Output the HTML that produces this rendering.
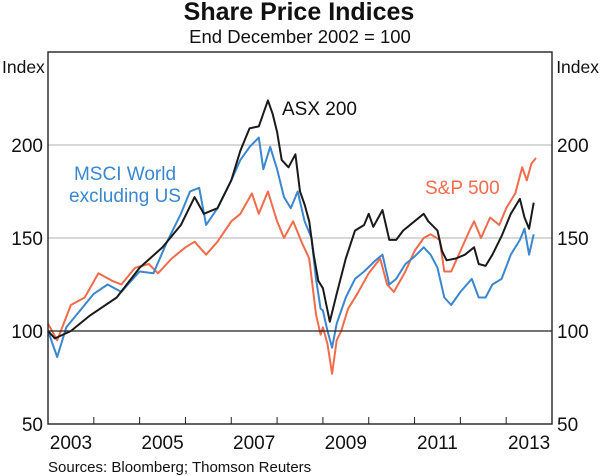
<!DOCTYPE html>
<html><head><meta charset="utf-8"><style>
body{margin:0;background:#fff;}
svg{display:block;font-family:"Liberation Sans",Arial,sans-serif;}
</style></head><body>
<svg id="chart" width="600" height="476">
<text x="299" y="20" text-anchor="middle" font-size="25" font-weight="bold" fill="#111">Share Price Indices</text>
<text x="300" y="43" text-anchor="middle" font-size="18.5" fill="#111">End December 2002 = 100</text>
<text x="2" y="73" font-size="17.5" fill="#111">Index</text>
<text x="599" y="73" text-anchor="end" font-size="17.5" fill="#111">Index</text>
<g id="grid"></g><g id="series"></g><g id="axes"></g>
<text x="282" y="115" font-size="19" fill="#111">ASX 200</text>
<text x="125" y="180" text-anchor="middle" font-size="19" fill="#3a87d0">MSCI World</text>
<text x="125" y="202" text-anchor="middle" font-size="19" fill="#3a87d0">excluding US</text>
<text x="425" y="194" font-size="19" fill="#f26b4a">S&amp;P 500</text>
<text x="48" y="472" font-size="15" fill="#111">Sources: Bloomberg; Thomson Reuters</text>
</svg>
<script>
const yTicks=[50,100,150,200,250];
const yTickLabels=["50","100","150","200",""];
const xYears=[2003,2004,2005,2006,2007,2008,2009,2010,2011,2012,2013,2014];
const xLabels=["2003","2005","2007","2009","2011","2013"];
const asxT=[2003.0,2003.15,2003.5,2003.9,2004.5,2005.0,2005.5,2005.9,2006.2,2006.4,2006.7,2007.0,2007.2,2007.4,2007.6,2007.8,2007.9,2008.0,2008.1,2008.25,2008.4,2008.5,2008.6,2008.7,2008.8,2008.9,2009.0,2009.15,2009.3,2009.5,2009.7,2009.9,2010.0,2010.1,2010.3,2010.45,2010.6,2010.75,2011.0,2011.2,2011.3,2011.5,2011.6,2011.7,2011.9,2012.1,2012.3,2012.4,2012.55,2012.7,2012.9,2013.1,2013.3,2013.4,2013.5,2013.6];
const asxV=[100,96,100,108,118,134,145,157,172,163,166,181,197,209,210,224,217,207,192,188,195,175,168,159,141,127,123,105,120,139,154,157,163,156,165,149,149,154,159,163,159,154,143,138,139,141,145,136,135,141,151,163,171,161,155,169];
const msciT=[2003.0,2003.2,2003.4,2003.7,2004.0,2004.3,2004.6,2005.0,2005.3,2005.6,2005.9,2006.1,2006.3,2006.45,2006.7,2007.0,2007.2,2007.4,2007.6,2007.7,2007.85,2008.0,2008.15,2008.3,2008.45,2008.6,2008.75,2008.85,2008.95,2009.0,2009.1,2009.2,2009.3,2009.5,2009.7,2009.9,2010.15,2010.3,2010.45,2010.6,2010.8,2011.0,2011.2,2011.35,2011.5,2011.65,2011.8,2012.0,2012.25,2012.4,2012.55,2012.7,2012.9,2013.1,2013.3,2013.4,2013.5,2013.6];
const msciV=[100,86,102,111,120,125,121,132,131,148,163,175,177,157,166,181,192,199,204,187,199,187,172,166,175,159,150,128,112,111,100,91,104,118,128,132,138,141,125,128,136,140,145,141,134,118,114,121,128,118,118,125,128,141,149,155,141,152];
const spT=[2003.0,2003.2,2003.5,2003.8,2004.1,2004.4,2004.6,2004.9,2005.2,2005.4,2005.7,2006.0,2006.2,2006.45,2006.7,2007.0,2007.2,2007.45,2007.6,2007.8,2008.0,2008.15,2008.35,2008.55,2008.7,2008.85,2008.95,2009.0,2009.1,2009.2,2009.3,2009.4,2009.55,2009.75,2010.0,2010.25,2010.4,2010.55,2010.8,2011.0,2011.2,2011.35,2011.55,2011.65,2011.8,2012.0,2012.2,2012.3,2012.45,2012.65,2012.85,2013.0,2013.2,2013.35,2013.45,2013.55,2013.65];
const spV=[104,95,114,118,131,127,125,134,136,131,139,145,148,141,148,159,163,174,163,175,159,150,159,147,139,109,98,102,93,77,95,100,112,120,131,139,125,121,132,143,150,152,149,132,132,143,154,159,150,161,157,166,174,188,181,190,193];
const L=48,R=552,T=52,B=424;
const x=t=>L+(t-2003)*(R-L)/11;
const y=v=>B-(v-50)*(B-T)/200;
const NS="http://www.w3.org/2000/svg";
function mk(tag,parent){const e=document.createElementNS(NS,tag);document.getElementById(parent).appendChild(e);return e;}
yTicks.forEach((v,i)=>{
 if(v===150||v===200){const g=mk('line','grid');g.setAttribute('x1',L);g.setAttribute('x2',R);g.setAttribute('y1',y(v));g.setAttribute('y2',y(v));g.setAttribute('stroke','#b0b0b0');g.setAttribute('stroke-width','1');
 
 }
 if(yTickLabels[i]){
 const a=mk('text','axes');a.setAttribute('x',L-5);a.setAttribute('y',y(v)+7);a.setAttribute('text-anchor','end');a.setAttribute('font-size','19');a.setAttribute('fill','#111');a.textContent=yTickLabels[i];
 
 
 const b=mk('text','axes');b.setAttribute('x',R+5);b.setAttribute('y',y(v)+7);b.setAttribute('font-size','19');b.setAttribute('fill','#111');b.textContent=yTickLabels[i];
 
 }
});
function series(T_,V,col,name){
 const p=mk('path','series');
 p.setAttribute('d',T_.map((t,i)=>(i?'L':'M')+x(t).toFixed(1)+' '+y(V[i]).toFixed(1)).join(''));
 p.setAttribute('fill','none');p.setAttribute('stroke',col);p.setAttribute('stroke-width','2');p.setAttribute('stroke-linejoin','round');
 
 
}
series(spT,spV,'#f26b4a','sp-500-line');
series(msciT,msciV,'#3a87d0','msci-world-ex-us-line');
series(asxT,asxV,'#1a1a1a','asx-200-line');
const base=mk('line','axes');base.setAttribute('x1',L);base.setAttribute('x2',R);base.setAttribute('y1',y(100));base.setAttribute('y2',y(100));base.setAttribute('stroke','#222');base.setAttribute('stroke-width','1.2');


const fr=mk('rect','axes');fr.setAttribute('x',L);fr.setAttribute('y',T);fr.setAttribute('width',R-L);fr.setAttribute('height',B-T);fr.setAttribute('fill','none');fr.setAttribute('stroke','#222');fr.setAttribute('stroke-width','1.4');


xYears.slice(1,-1).forEach(yr=>{const t=mk('line','axes');t.setAttribute('x1',x(yr));t.setAttribute('x2',x(yr));t.setAttribute('y1',B);t.setAttribute('y2',B-7);t.setAttribute('stroke','#222');
 
 });
xLabels.forEach(l=>{const t=mk('text','axes');t.setAttribute('x',x(+l+0.5));t.setAttribute('y',B+25);t.setAttribute('text-anchor','middle');t.setAttribute('font-size','19');t.setAttribute('fill','#111');t.textContent=l;
 
 });
</script>
</body></html>
